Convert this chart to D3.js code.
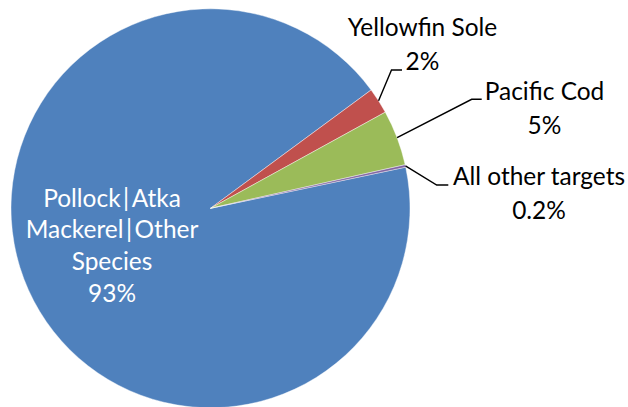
<!DOCTYPE html>
<html>
<head>
<meta charset="utf-8">
<script src="https://cdn.jsdelivr.net/npm/d3@7"></script>
<style>
  html, body { margin: 0; padding: 0; background: #fff; }
  svg { display: block; }
</style>
</head>
<body>
<svg id="chart" width="628" height="407"></svg>
<script>
// ---- data ----
const categories = ["Pollock|Atka Mackerel|Other Species", "Yellowfin Sole", "Pacific Cod", "All other targets"];
const values = [93.2, 2.1, 4.5, 0.2];
const percentLabels = ["93%", "2%", "5%", "0.2%"];
const colors = ["#4F81BD", "#C0504D", "#9BBB59", "#8064A2"];

// ---- layout ----
const W = 628, H = 407;
const cx = 210.5, cy = 208.3, R = 199.5;
const startDeg = 78.1;
const fontFamily = "Lato, 'Open Sans', 'DejaVu Sans', sans-serif";

const svg = d3.select("#chart");
const g = svg.append("g").attr("transform", `translate(${cx},${cy})`);

const start = startDeg * Math.PI / 180;
const pie = d3.pie().sort(null).value(d => d).startAngle(start).endAngle(start + 2 * Math.PI);
const arcs = pie(values);
const arc = d3.arc().innerRadius(0).outerRadius(R);

g.selectAll("path.slice")
  .data(arcs)
  .enter().append("path")
  .attr("class", "slice")
  .attr("d", arc)
  .attr("fill", (d, i) => colors[i])
  .attr("stroke", "#ffffff")
  .attr("stroke-width", 0.6)
  .attr("stroke-opacity", 0.7);

// label layout (outside labels for small slices)
const outside = [
  null,
  { elbow: [391.5, 70], end: [402, 70], tx: 422.5, ty: 36 },
  { elbow: [471.7, 99.3], end: [481.7, 99.3], tx: 544.5, ty: 100 },
  { elbow: [436.7, 185], end: [448.3, 185], tx: 539, ty: 185 }
];
const lineGap = 33.5;

// measure to fit font size
const baseSize = 26;
const probe = svg.append("text").attr("font-family", fontFamily).attr("font-size", baseSize).text("Pacific Cod All other targets Yellowfin Sole");
const measured = probe.node().getComputedTextLength();
probe.remove();
const target = 117 + 172 + 149 + 2 * 7;
const fontSize = Math.min(30, baseSize * target / measured);

const labelLayer = svg.append("g").attr("font-family", fontFamily).attr("font-size", fontSize);

arcs.forEach((a, i) => {
  if (i === 0) return;
  const L = outside[i];
  const mid = (a.startAngle + a.endAngle) / 2;
  const p0 = [cx + R * Math.sin(mid), cy - R * Math.cos(mid)];
  labelLayer.append("polyline")
    .attr("points", [p0, L.elbow, L.end].map(p => p.join(",")).join(" "))
    .attr("fill", "none")
    .attr("stroke", "#000")
    .attr("stroke-width", 1.4);
  const t = labelLayer.append("text")
    .attr("text-anchor", "middle")
    .attr("fill", "#000");
  t.append("tspan").attr("x", L.tx).attr("y", L.ty).text(categories[i]);
  t.append("tspan").attr("x", L.tx).attr("y", L.ty + lineGap).text(percentLabels[i]);
});

// inside label for big slice (bar gets a little extra side spacing like Calibri)
const bigLines = [["Pollock", "|", "Atka"], ["Mackerel", "|", "Other"], ["Species"], [percentLabels[0]]];
const bx = 112, by0 = 206.7, bGap = 31.7;
bigLines.forEach((parts, k) => {
  const t = labelLayer.append("text")
    .attr("text-anchor", "middle")
    .attr("fill", "#ffffff")
    .attr("x", bx)
    .attr("y", by0 + k * bGap);
  parts.forEach((p, j) => {
    const ts = t.append("tspan").text(p);
    if (j > 0) ts.attr("dx", 2.5);
  });
});
</script>
</body>
</html>
